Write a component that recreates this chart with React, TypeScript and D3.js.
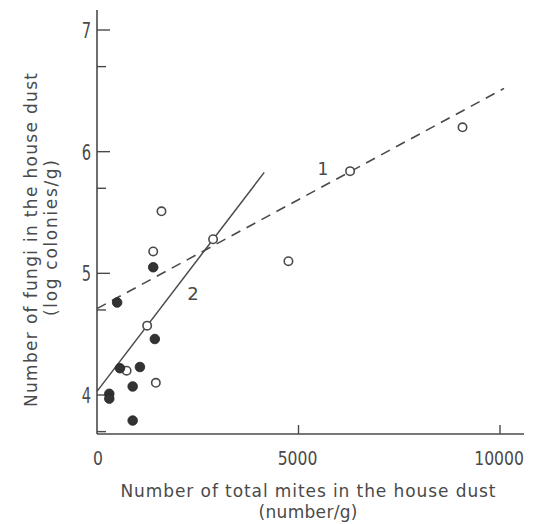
import React, { useEffect, useRef } from 'react';
import * as d3 from 'd3';

// values
const openX = [1600, 1395, 2880, 1245, 735, 1460, 4750, 6280, 9070];
const openY = [5.51, 5.18, 5.28, 4.57, 4.2, 4.1, 5.1, 5.84, 6.2];
const filledX = [1395, 500, 1435, 570, 1065, 885, 305, 305, 885];
const filledY = [5.05, 4.76, 4.46, 4.22, 4.23, 4.07, 4.01, 3.97, 3.79];
const line1X = [0, 10100];
const line1Y = [4.71, 6.52];
const line2X = [0, 4150];
const line2Y = [4.03, 5.83];
const xTicks = [0, 5000, 10000];
const yTicks = [4, 5, 6, 7];
const yMinorTicks = [3, 4, 5, 6].map(d => d + Math.log10(5));

const ink = '#4a4a4a';
const font = 'DejaVu Sans, sans-serif';

function Chart() {
  const ref = useRef<SVGSVGElement>(null);

  useEffect(() => {
    const svg = d3.select(ref.current);
    svg.selectAll('*').remove();

    const x = d3.scaleLinear().domain([0, 10000]).range([97, 500]);
    const y = d3.scaleLinear().domain([4, 7]).range([395, 30]);
    const axisY = 434;

    // axes lines
    svg.append('line')
      .attr('x1', 97).attr('x2', 97).attr('y1', 10).attr('y2', axisY)
      .attr('stroke', ink).attr('stroke-width', 1.6);
    svg.append('line')
      .attr('x1', 97).attr('x2', 524).attr('y1', axisY).attr('y2', axisY)
      .attr('stroke', ink).attr('stroke-width', 1.6);

    // y ticks
    svg.selectAll('.ytick').data(yTicks).enter().append('line')
      .attr('x1', 97).attr('x2', 110)
      .attr('y1', d => y(d)).attr('y2', d => y(d))
      .attr('stroke', ink).attr('stroke-width', 1.4);
    svg.selectAll('.yminor').data(yMinorTicks).enter().append('line')
      .attr('x1', 97).attr('x2', 106)
      .attr('y1', d => y(d)).attr('y2', d => y(d))
      .attr('stroke', ink).attr('stroke-width', 1.4);
    // narrow digits like the printed figure
    svg.selectAll('.ylab').data(yTicks).enter().append('text')
      .attr('transform', d => `translate(91,${y(d) + 8}) scale(0.7,1)`)
      .attr('text-anchor', 'end')
      .attr('font-family', font).attr('font-size', 21)
      .attr('fill', ink)
      .text(d => d);

    // x ticks
    svg.selectAll('.xtick').data(xTicks.slice(1)).enter().append('line')
      .attr('x1', d => x(d)).attr('x2', d => x(d))
      .attr('y1', axisY).attr('y2', axisY - 9)
      .attr('stroke', ink).attr('stroke-width', 1.4);
    svg.selectAll('.xlab').data(xTicks).enter().append('text')
      .attr('transform', d => `translate(${x(d) + (d === 0 ? 1 : -1)},465) scale(0.78,1)`)
      .attr('text-anchor', 'middle')
      .attr('font-family', font).attr('font-size', 20)
      .attr('fill', ink)
      .text(d => d);

    // regression lines
    const line = d3.line<[number, number]>().x(d => x(d[0])).y(d => y(d[1]));
    svg.append('path')
      .attr('d', line(d3.zip(line1X, line1Y) as [number, number][]))
      .attr('fill', 'none').attr('stroke', ink).attr('stroke-width', 1.6)
      .attr('stroke-dasharray', '10,7');
    svg.append('path')
      .attr('d', line(d3.zip(line2X, line2Y) as [number, number][]))
      .attr('fill', 'none').attr('stroke', ink).attr('stroke-width', 1.5);

    svg.append('text').attr('x', 323).attr('y', 175)
      .attr('text-anchor', 'middle').attr('font-family', font).attr('font-size', 17)
      .attr('fill', ink).text('1');
    svg.append('text').attr('x', 193).attr('y', 300)
      .attr('text-anchor', 'middle').attr('font-family', font).attr('font-size', 18)
      .attr('fill', ink).text('2');

    // points
    svg.selectAll('.open').data(d3.zip(openX, openY)).enter().append('circle')
      .attr('cx', d => x(d[0])).attr('cy', d => y(d[1])).attr('r', 4.2)
      .attr('fill', 'white').attr('stroke', ink).attr('stroke-width', 1.6);
    svg.selectAll('.filled').data(d3.zip(filledX, filledY)).enter().append('circle')
      .attr('cx', d => x(d[0])).attr('cy', d => y(d[1])).attr('r', 4.8)
      .attr('fill', '#333').attr('stroke', '#222').attr('stroke-width', 0.8);

    // axis titles
    svg.append('text')
      .attr('transform', 'translate(37,240) rotate(-90)')
      .attr('text-anchor', 'middle').attr('font-family', font).attr('font-size', 17)
      .attr('fill', ink).attr('textLength', 334).attr('lengthAdjust', 'spacing')
      .text('Number of fungi in the house dust');
    svg.append('text')
      .attr('transform', 'translate(57,238) rotate(-90)')
      .attr('text-anchor', 'middle').attr('font-family', font).attr('font-size', 17)
      .attr('fill', ink).attr('textLength', 156).attr('lengthAdjust', 'spacing')
      .text('(log colonies/g)');
    svg.append('text')
      .attr('x', 308).attr('y', 497)
      .attr('text-anchor', 'middle').attr('font-family', font).attr('font-size', 17)
      .attr('fill', ink).attr('textLength', 375).attr('lengthAdjust', 'spacing')
      .text('Number of total mites in the house dust');
    svg.append('text')
      .attr('x', 308).attr('y', 518)
      .attr('text-anchor', 'middle').attr('font-family', font).attr('font-size', 17)
      .attr('fill', ink).attr('textLength', 99).attr('lengthAdjust', 'spacing')
      .text('(number/g)');
  }, []);

  return (
    <svg ref={ref} width={537} height={524}
      style={{ position: 'absolute', left: 0, top: 0, background: 'white' }} />
  );
}

export default function App() {
  return <Chart />;
}
